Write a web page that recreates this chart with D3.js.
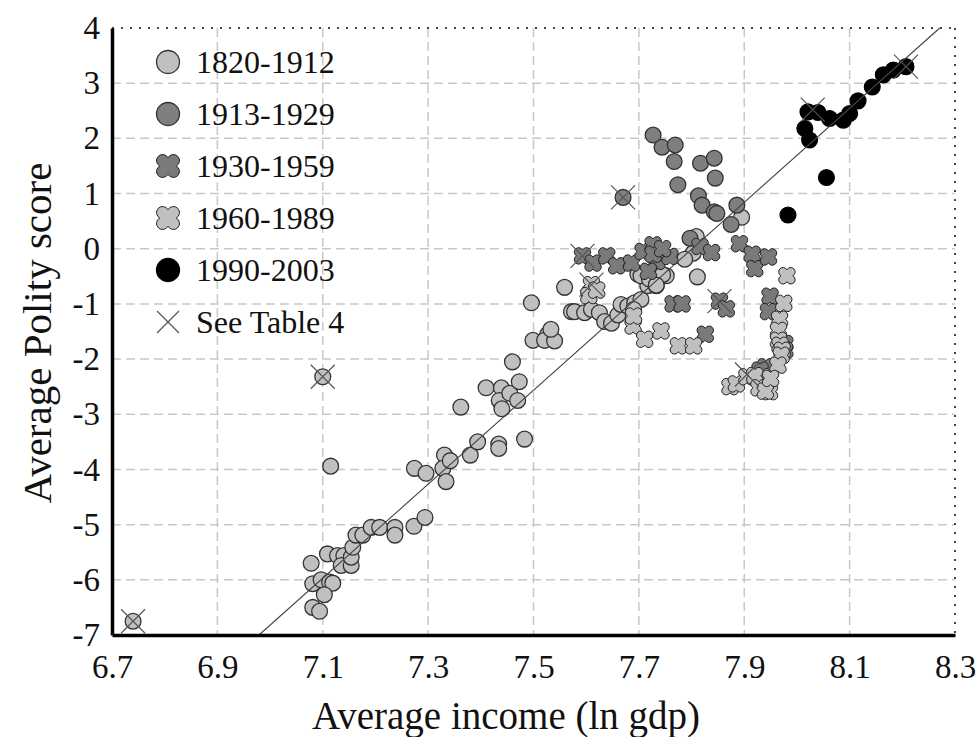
<!DOCTYPE html>
<html>
<head>
<meta charset="utf-8">
<script src="https://cdn.jsdelivr.net/npm/d3@7"></script>
<style>
  body { margin: 0; background: #fff; }
  svg text { font-family: "Liberation Serif", "Times New Roman", serif; fill: #111; }
</style>
</head>
<body>
<div id="chart"></div>
<script>
// x tick values and y tick values
var xTicks = [6.7, 6.9, 7.1, 7.3, 7.5, 7.7, 7.9, 8.1, 8.3];
var yTicks = [-7, -6, -5, -4, -3, -2, -1, 0, 1, 2, 3, 4];

// periods (legend order)
var periods = ["1820-1912", "1913-1929", "1930-1959", "1960-1989", "1990-2003"];

// [ln gdp, polity score]
var p1820 = [
  [6.74,-6.75],[7.10,-2.32],[7.115,-3.94],[7.078,-5.70],
  [7.081,-6.07],[7.097,-6.0],[7.113,-6.04],[7.119,-6.06],[7.103,-6.27],[7.081,-6.50],[7.094,-6.57],
  [7.109,-5.53],[7.128,-5.56],[7.14,-5.56],[7.135,-5.74],[7.154,-5.74],[7.154,-5.59],[7.157,-5.41],
  [7.163,-5.19],[7.176,-5.19],[7.192,-5.05],[7.208,-5.05],[7.237,-5.05],[7.237,-5.19],
  [7.273,-5.03],[7.294,-4.87],
  [7.274,-3.98],[7.296,-4.07],[7.331,-3.74],[7.328,-3.98],[7.334,-4.22],[7.342,-3.84],[7.380,-3.74],
  [7.394,-3.5],[7.434,-3.54],[7.434,-3.62],[7.483,-3.45],[7.362,-2.87],
  [7.410,-2.52],[7.439,-2.52],[7.435,-2.75],[7.44,-2.9],[7.455,-2.62],[7.47,-2.75],[7.473,-2.41],[7.460,-2.05],
  [7.499,-1.66],[7.527,-1.55],[7.521,-1.66],[7.540,-1.67],[7.533,-1.46],[7.496,-0.98],[7.559,-0.70],
  [7.572,-1.14],[7.578,-1.14],[7.597,-1.16],[7.610,-1.10],[7.625,-1.16],[7.635,-1.32],[7.648,-1.35],
  [7.66,-1.2],[7.666,-1.01],[7.679,-1.04],[7.692,-0.98],[7.704,-0.92],[7.69,-1.1],
  [7.717,-0.67],[7.733,-0.67],[7.752,-0.49],[7.698,-0.46],[7.704,-0.49],[7.72,-0.55],[7.745,-0.47],
  [7.605,-0.80],[7.733,-0.66],
  [7.809,0.22],[7.803,-0.08],[7.787,-0.19],[7.811,-0.51],[7.895,0.57]
];
var p1913 = [
  [7.670,0.93],[7.727,2.06],[7.744,1.84],[7.769,1.88],[7.767,1.58],[7.817,1.55],[7.843,1.64],
  [7.845,1.28],[7.774,1.16],[7.813,0.96],[7.820,0.79],[7.843,0.67],[7.848,0.64],[7.886,0.79],
  [7.875,0.44],[7.797,0.19]
];
var p1930 = [
  [7.593,-0.13],[7.613,-0.26],[7.639,-0.13],[7.658,-0.31],[7.686,-0.26],[7.708,-0.05],[7.727,0.07],
  [7.734,-0.23],[7.718,-0.41],[7.759,-0.14],[7.727,-0.10],[7.745,0.0],[7.765,-1.0],[7.782,-1.0],
  [7.816,0.04],[7.838,-0.07],[7.891,0.09],[7.915,-0.10],[7.92,-0.36],[7.946,-0.15],[7.949,-0.86],
  [7.946,-1.14],[7.853,-0.95],[7.866,-1.09],[7.826,-1.55],[7.977,-1.72],[7.977,-1.84],[7.941,-2.14],[7.93,-2.2]
];
var p1960 = [
  [7.61,-0.65],[7.605,-0.85],[7.62,-0.75],[7.689,-1.40],[7.69,-1.22],[7.711,-1.64],[7.742,-1.49],
  [7.775,-1.76],[7.804,-1.76],[7.981,-0.49],[7.975,-0.99],[7.967,-1.28],[7.965,-1.48],[7.965,-1.66],
  [7.968,-1.75],[7.972,-1.84],[7.970,-1.93],[7.964,-2.11],[7.935,-2.32],[7.948,-2.59],
  [7.873,-2.50],[7.885,-2.45],[7.905,-2.32],[7.92,-2.30],[7.928,-2.52],[7.94,-2.58],[7.95,-2.35]
];
var p1990 = [
  [7.983,0.61],[8.056,1.29],[8.024,1.97],[8.015,2.18],[8.021,2.48],[8.040,2.47],[8.062,2.36],
  [8.088,2.33],[8.10,2.45],[8.116,2.68],[8.143,2.93],[8.164,3.15],[8.183,3.24],[8.207,3.30]
];
// points marked "See Table 4"
var table4 = [
  [6.74,-6.75],[7.10,-2.32],[7.670,0.93],[7.593,-0.13],[7.61,-0.65],[7.853,-0.95],
  [7.905,-2.28],[8.03,2.52],[8.207,3.30]
];
// fitted line end points
var fitX = [6.979, 8.271];
var fitY = [-7, 4];

var width = 979, height = 737;
var margin = {top: 28, right: 24, bottom: 102, left: 112};

var svg = d3.select("#chart").append("svg")
  .attr("width", width)
  .attr("height", height);

var x = d3.scaleLinear().domain([6.7, 8.3]).range([margin.left, width - margin.right]);
var y = d3.scaleLinear().domain([-7, 4]).range([height - margin.bottom, margin.top]);

// grid
svg.append("g").selectAll("line")
  .data(xTicks.slice(1, -1)).enter().append("line")
  .attr("x1", d => x(d)).attr("x2", d => x(d))
  .attr("y1", y(4)).attr("y2", y(-7))
  .attr("stroke", "#c8c8c8").attr("stroke-width", 1.5).attr("stroke-dasharray", "9,5");
svg.append("g").selectAll("line")
  .data(yTicks.slice(1, -1)).enter().append("line")
  .attr("x1", x(6.7)).attr("x2", x(8.3))
  .attr("y1", d => y(d)).attr("y2", d => y(d))
  .attr("stroke", "#c8c8c8").attr("stroke-width", 1.5).attr("stroke-dasharray", "9,5");

// dotted top and right border
svg.append("line")
  .attr("x1", x(6.7)).attr("x2", x(8.3)).attr("y1", y(4)).attr("y2", y(4))
  .attr("stroke", "#444").attr("stroke-width", 2).attr("stroke-dasharray", "2,7");
svg.append("line")
  .attr("x1", x(8.3)).attr("x2", x(8.3)).attr("y1", y(4)).attr("y2", y(-7))
  .attr("stroke", "#444").attr("stroke-width", 2).attr("stroke-dasharray", "2,7");

// marker shapes
function cushion(s) {
  var a = 4 * s, r = 4.5 * s, d = Math.sqrt(r * r - a * a), e = a + d;
  return "M0," + (-e) +
    "A" + r + "," + r + " 0 1 1 " + e + ",0" +
    "A" + r + "," + r + " 0 1 1 0," + e +
    "A" + r + "," + r + " 0 1 1 " + (-e) + ",0" +
    "A" + r + "," + r + " 0 1 1 0," + (-e) + "Z";
}

var styles = {
  "1820-1912": {shape: "circle", fill: "#c0c0c0", stroke: "#333"},
  "1913-1929": {shape: "circle", fill: "#7f7f7f", stroke: "#333"},
  "1930-1959": {shape: "cross", fill: "#7a7a7a", stroke: "#222"},
  "1960-1989": {shape: "cross", fill: "#c0c0c0", stroke: "#222"},
  "1990-2003": {shape: "circle", fill: "#000", stroke: "#000"}
};

function drawMarkers(g, data, st, scale) {
  if (st.shape === "circle") {
    g.selectAll("circle").data(data).enter().append("circle")
      .attr("cx", d => x(d[0])).attr("cy", d => y(d[1]))
      .attr("r", 7.9 * scale)
      .attr("fill", st.fill).attr("stroke", st.stroke).attr("stroke-width", 1.3);
  } else {
    g.selectAll("path").data(data).enter().append("path")
      .attr("transform", d => "translate(" + x(d[0]) + "," + y(d[1]) + ")")
      .attr("d", cushion(0.97 * scale))
      .attr("fill", st.fill).attr("stroke", st.stroke).attr("stroke-width", 1);
  }
}

var seriesData = [p1820, p1913, p1930, p1960, p1990];
periods.forEach(function(p, i) {
  drawMarkers(svg.append("g"), seriesData[i], styles[p], 1);
});

// fitted line
svg.append("line")
  .attr("x1", x(fitX[0])).attr("y1", y(fitY[0]))
  .attr("x2", x(fitX[1])).attr("y2", y(fitY[1]))
  .attr("stroke", "#444").attr("stroke-width", 1.1);

// see Table 4 crosses
var xs = 12;
svg.append("g").selectAll("path").data(table4).enter().append("path")
  .attr("transform", d => "translate(" + x(d[0]) + "," + y(d[1]) + ")")
  .attr("d", "M" + (-xs) + "," + (-xs) + "L" + xs + "," + xs + "M" + xs + "," + (-xs) + "L" + (-xs) + "," + xs)
  .attr("stroke", "#555").attr("stroke-width", 1.2).attr("fill", "none");

// axes
var xAxis = svg.append("g")
  .attr("transform", "translate(0," + y(-7) + ")")
  .call(d3.axisBottom(x).tickValues(xTicks).tickSize(0).tickPadding(20).tickFormat(d3.format(".1f")));
var yAxis = svg.append("g")
  .attr("transform", "translate(" + x(6.7) + ",0)")
  .call(d3.axisLeft(y).tickValues(yTicks).tickSize(0).tickPadding(12).tickFormat(d3.format("d")));
[xAxis, yAxis].forEach(function(a) {
  a.select(".domain").attr("stroke", "#000").attr("stroke-width", 3.5);
  a.selectAll("text").style("font-size", "33px").attr("fill", "#111")
    .style("font-family", "'Liberation Serif', 'Times New Roman', serif");
});
yAxis.selectAll("text").text(d => d < 0 ? "-" + Math.abs(d) : d);

// axis titles
svg.append("text")
  .attr("x", 506).attr("y", 729)
  .attr("text-anchor", "middle").style("font-size", "39px")
  .text("Average income (ln gdp)");
svg.append("text")
  .attr("transform", "translate(51," + 333 + ") rotate(-90)")
  .attr("text-anchor", "middle").style("font-size", "41px")
  .text("Average Polity score");

// legend
var legend = svg.append("g");
var legendItems = periods.concat(["See Table 4"]);
legendItems.forEach(function(p, i) {
  var ly = 62 + i * 52;
  var g = legend.append("g").attr("transform", "translate(168," + ly + ")");
  if (p === "See Table 4") {
    g.append("path").attr("d", "M-11,-11L11,11M11,-11L-11,11")
      .attr("stroke", "#555").attr("stroke-width", 1.2);
  } else if (styles[p].shape === "circle") {
    g.append("circle").attr("r", 11.5)
      .attr("fill", styles[p].fill).attr("stroke", styles[p].stroke).attr("stroke-width", 1.3);
  } else {
    g.append("path").attr("d", cushion(1.35))
      .attr("fill", styles[p].fill).attr("stroke", styles[p].stroke).attr("stroke-width", 1);
  }
  legend.append("text")
    .attr("x", 196).attr("y", ly).attr("dy", "0.35em")
    .style("font-size", "32px")
    .text(p);
});
</script>
</body>
</html>
